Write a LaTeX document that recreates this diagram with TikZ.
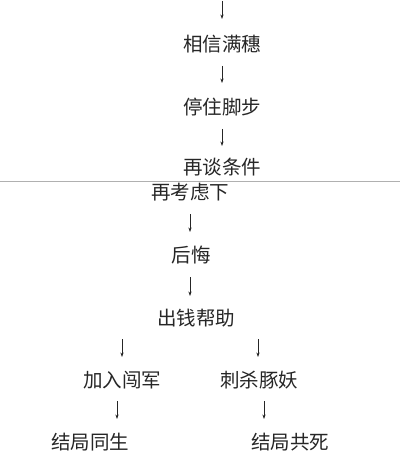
\documentclass[tikz,border=0pt]{standalone}
\usepackage{fontspec}
\newfontfamily\cjk{Noto Sans CJK SC}
\usetikzlibrary{arrows.meta}
\definecolor{txt}{HTML}{262626}
\definecolor{rule}{HTML}{B0B0B0}
\tikzset{
  lbl/.style={font=\cjk\fontsize{19.5}{20}\selectfont, text=txt, inner sep=0pt, anchor=center},
  arr/.style={draw=txt, line width=0.7pt, -{Stealth[length=4.5pt,width=3.2pt]}}
}
\begin{document}
\begin{tikzpicture}[x=1pt,y=-1pt]
\useasboundingbox (0,0) rectangle (416,457);
\fill[white] (0,0) rectangle (416,457);
% text nodes
\node[lbl] (xin)   at (222,44)  {相信满穗};
\node[lbl] (ting)  at (222,107) {停住脚步};
\node[lbl] (tan)   at (222,167) {再谈条件};
\node[lbl] (kao)   at (190,192) {再考虑下};
\node[lbl] (hui)   at (191,255) {后悔};
\node[lbl] (chu)   at (196,318) {出钱帮助};
\node[lbl] (jia)   at (122,380) {加入闯军};
\node[lbl] (ci)    at (259,380) {刺杀豚妖};
\node[lbl] (tong)  at (90,442)  {结局同生};
\node[lbl] (gong)  at (290,442) {结局共死};
% separator line
\coordinate (ruleL) at (0,181);
\coordinate (ruleR) at (400,181);
\draw[rule, line width=0.8pt] (ruleL) -- (ruleR);
% arrow end points
\coordinate (a0s) at (222,1);   \coordinate (a0e) at (222,19);
\coordinate (a1s) at (222,66);  \coordinate (a1e) at (222,83);
\coordinate (a2s) at (222,129); \coordinate (a2e) at (222,146);
\coordinate (a3s) at (190,214); \coordinate (a3e) at (190,232);
\coordinate (a4s) at (190,277); \coordinate (a4e) at (190,296);
\coordinate (a5s) at (122,339); \coordinate (a5e) at (122,357);
\coordinate (a6s) at (258,339); \coordinate (a6e) at (258,357);
\coordinate (a7s) at (117,401); \coordinate (a7e) at (117,419);
\coordinate (a8s) at (264,401); \coordinate (a8e) at (264,419);
\draw[arr] (a0s) -- (a0e);
\draw[arr] (a1s) -- (a1e);
\draw[arr] (a2s) -- (a2e);
\draw[arr] (a3s) -- (a3e);
\draw[arr] (a4s) -- (a4e);
\draw[arr] (a5s) -- (a5e);
\draw[arr] (a6s) -- (a6e);
\draw[arr] (a7s) -- (a7e);
\draw[arr] (a8s) -- (a8e);
\end{tikzpicture}
\end{document}
